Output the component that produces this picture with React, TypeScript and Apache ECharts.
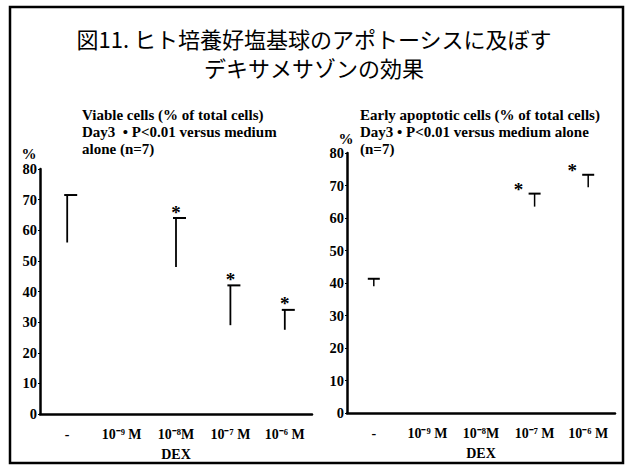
import React, { useEffect, useRef } from "react";
import * as echarts from "echarts";

const categories = ["-", "10⁻⁹ M", "10⁻⁸M", "10⁻⁷ M", "10⁻⁶ M"];
const yTicks = [0, 10, 20, 30, 40, 50, 60, 70, 80];

// Viable cells: mean and mean + SD (null = not shown)
const viableMean = [56, null, 48, 29, 27.5];
const viableUpper = [71.5, null, 64, 42, 34];
const viableSig = [false, false, true, true, true];

// Early apoptotic cells
const earlyMean = [39, null, null, 63.5, 69.5];
const earlyUpper = [41.3, null, null, 67.5, 73.3];
const earlySig = [false, false, false, true, true];

const mainTitle = "図11. ヒト培養好塩基球のアポトーシスに及ぼす\nデキサメサゾンの効果";
const leftSubtitle = "Viable cells (% of total cells)\nDay3  • P<0.01 versus medium\nalone (n=7)";
const rightSubtitle = "Early apoptotic cells (% of total cells)\nDay3 • P<0.01 versus medium alone\n(n=7)";
const xName = "DEX";
const yName = "%";

const SERIF = "'Liberation Serif', 'Times New Roman', serif";

function errData(mean: (number | null)[], upper: (number | null)[]) {
  const out: number[][] = [];
  mean.forEach((m, i) => {
    const u = upper[i];
    if (m !== null && u !== null) out.push([i, m, u]);
  });
  return out;
}

function sigData(sig: boolean[], upper: (number | null)[]) {
  const out: number[][] = [];
  sig.forEach((s, i) => {
    const u = upper[i];
    if (s && u !== null) out.push([i, u]);
  });
  return out;
}

function errRender(capLeft: number, capRight: number, lw: number) {
  return (params: any, api: any) => {
    const x = api.value(0);
    const lo = api.coord([x, api.value(1)]);
    const hi = api.coord([x, api.value(2)]);
    return {
      type: "group",
      children: [
        {
          type: "line",
          shape: { x1: lo[0], y1: lo[1], x2: hi[0], y2: hi[1] },
          style: { stroke: "#000", lineWidth: lw },
        },
        {
          type: "line",
          shape: { x1: hi[0] - capLeft, y1: hi[1], x2: hi[0] + capRight, y2: hi[1] },
          style: { stroke: "#000", lineWidth: 2 },
        },
      ],
    };
  };
}

function starRender(dx: number, dy: number) {
  return (params: any, api: any) => {
    const p = api.coord([api.value(0), api.value(1)]);
    return {
      type: "text",
      x: p[0] + dx,
      y: p[1] + dy,
      style: {
        text: "*",
        fill: "#000",
        font: `bold 19px ${SERIF}`,
        align: "center",
        verticalAlign: "middle",
      },
    };
  };
}

function makeXAxis(gridIndex: number, nameGap: number) {
  return {
    type: "category",
    gridIndex,
    data: categories,
    boundaryGap: true,
    name: xName,
    nameLocation: "middle",
    nameGap,
    nameTextStyle: { fontFamily: SERIF, fontWeight: "bold", fontSize: 14, color: "#000" },
    axisLine: { lineStyle: { color: "#000", width: 2.5 } },
    axisTick: { show: false },
    axisLabel: {
      fontFamily: SERIF,
      fontWeight: "bold",
      fontSize: 14,
      color: "#000",
      margin: 13,
      interval: 0,
    },
    splitLine: { show: false },
  };
}

function makeYAxis(gridIndex: number) {
  return {
    type: "value",
    gridIndex,
    min: yTicks[0],
    max: yTicks[yTicks.length - 1],
    interval: yTicks[1] - yTicks[0],
    axisLine: { show: true, lineStyle: { color: "#000", width: 2.5 } },
    axisTick: { show: true, length: 2, lineStyle: { color: "#000" } },
    axisLabel: {
      fontFamily: SERIF,
      fontWeight: "bold",
      fontSize: 14.5,
      color: "#000",
      margin: 3,
    },
    splitLine: { show: false },
  };
}

const subStyle = {
  fontFamily: SERIF,
  fontWeight: "bold",
  fontSize: 15,
  lineHeight: 17,
  color: "#000",
};

export default function App() {
  const ref = useRef<HTMLDivElement>(null);
  useEffect(() => {
    if (!ref.current) return;
    const chart = echarts.init(ref.current, null, { renderer: "svg" });
    chart.setOption({
      animation: false,
      backgroundColor: "#fff",
      title: [
        {
          text: mainTitle,
          left: "center",
          top: 18,
          textStyle: {
            fontFamily: "'Noto Sans CJK JP', sans-serif",
            fontWeight: "normal",
            fontSize: 22,
            lineHeight: 29,
            color: "#000",
            align: "center",
          },
        },
        { text: leftSubtitle, left: 82, top: 106, padding: 0, textStyle: subStyle },
        { text: rightSubtitle, left: 360, top: 106, padding: 0, textStyle: subStyle },
      ],
      graphic: [
        {
          type: "rect",
          shape: { x: 10, y: 7, width: 613, height: 456 },
          style: { fill: "none", stroke: "#000", lineWidth: 2.5 },
        },
        {
          type: "text",
          x: 29,
          y: 154,
          style: {
            text: yName,
            font: `bold 15px ${SERIF}`,
            fill: "#000",
            align: "center",
            verticalAlign: "middle",
          },
        },
        {
          type: "text",
          x: 346,
          y: 139,
          style: {
            text: yName,
            font: `bold 15px ${SERIF}`,
            fill: "#000",
            align: "center",
            verticalAlign: "middle",
          },
        },
      ],
      grid: [
        { left: 40, top: 169, right: 316, bottom: 53, outerBoundsMode: "none", containLabel: false },
        { left: 347, top: 153, right: 13, bottom: 54, outerBoundsMode: "none", containLabel: false },
      ],
      xAxis: [makeXAxis(0, 33), makeXAxis(1, 33)],
      yAxis: [makeYAxis(0), makeYAxis(1)],
      series: [
        {
          type: "custom",
          xAxisIndex: 0,
          yAxisIndex: 0,
          renderItem: errRender(3, 10, 1.8),
          data: errData(viableMean, viableUpper),
          z: 5,
        },
        {
          type: "custom",
          xAxisIndex: 0,
          yAxisIndex: 0,
          renderItem: starRender(0, -6),
          data: sigData(viableSig, viableUpper),
          z: 5,
        },
        {
          type: "custom",
          xAxisIndex: 1,
          yAxisIndex: 1,
          renderItem: errRender(6, 6, 1.5),
          data: errData(earlyMean, earlyUpper),
          z: 5,
        },
        {
          type: "custom",
          xAxisIndex: 1,
          yAxisIndex: 1,
          renderItem: starRender(-16, -4),
          data: sigData(earlySig, earlyUpper),
          z: 5,
        },
      ],
    });
    return () => chart.dispose();
  }, []);
  return (
    <div
      ref={ref}
      style={{ position: "fixed", left: 0, top: 0, width: 628, height: 467 }}
    />
  );
}
